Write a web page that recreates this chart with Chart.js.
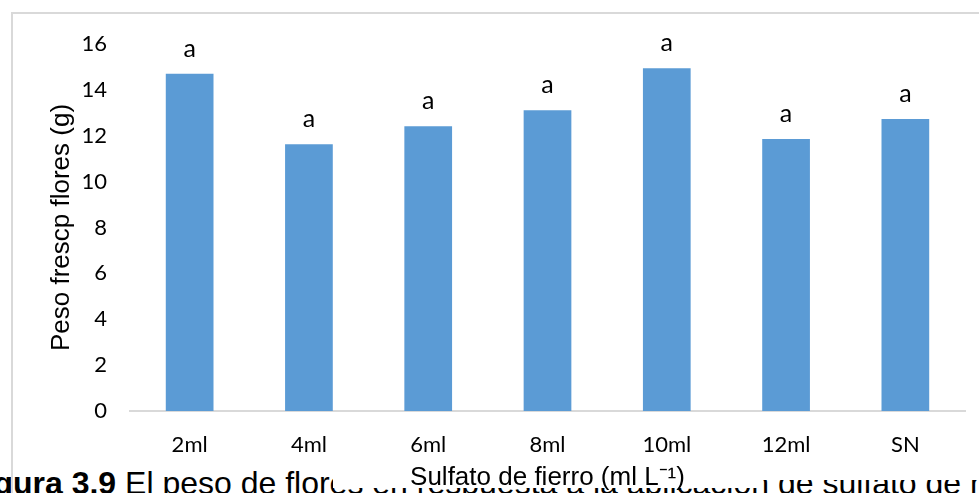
<!DOCTYPE html>
<html>
<head>
<meta charset="utf-8">
<script src="https://cdn.jsdelivr.net/npm/chart.js@4.4.1/dist/chart.umd.min.js"></script>
<style>
  html, body { margin: 0; padding: 0; background: #fff; overflow: hidden; width: 979px; height: 493px; }
  #caption {
    position: absolute; left: -35px; top: 467px;
    font: 32px "Liberation Sans", Arial, sans-serif; line-height: 32px;
    white-space: nowrap; color: #000; z-index: 1;
  }
  #wrap { position: absolute; left: 0; top: 0; width: 979px; height: 493px; z-index: 2; }
  #frame {
    position: absolute; left: 11px; top: 12px; width: 1000px; height: 520px;
    border-top: 2px solid #d9d9d9; border-left: 2px solid #d9d9d9;
    box-sizing: border-box; z-index: 3; pointer-events: none;
  }
</style>
</head>
<body>
<div id="caption"><b>Figura 3.9</b> El peso de flores en respuesta a la aplicación de sulfato de hierro</div>
<div id="wrap"><canvas id="c"></canvas></div>
<div id="frame"></div>
<script>
// Treatments (ml of iron sulfate per litre) and mean fresh flower weight (g)
const categories = ['2ml', '4ml', '6ml', '8ml', '10ml', '12ml', 'SN'];
const pesoFresco = [14.70, 11.63, 12.41, 13.11, 14.94, 11.86, 12.73];
// Mean separation letters shown above each bar
const letras = ['a', 'a', 'a', 'a', 'a', 'a', 'a'];
const yTicks = [0, 2, 4, 6, 8, 10, 12, 14, 16];

const tickFont = { family: 'Lato', size: 22 };
const letterFont = { family: 'Lato', size: 25 };

// Paints the chart's white background, leaving the caption strip uncovered
const backdrop = {
  id: 'backdrop',
  beforeDraw(chart) {
    const ctx = chart.ctx;
    ctx.save();
    ctx.fillStyle = '#fff';
    ctx.fillRect(0, 0, chart.width, 470);
    ctx.fillRect(333, 0, chart.width - 333, 480);
    ctx.fillRect(333, 0, 430, 488);
    ctx.restore();
  }
};

// Writes the significance letter above each bar
const letterLabels = {
  id: 'letterLabels',
  afterDatasetsDraw(chart) {
    const ctx = chart.ctx;
    const meta = chart.getDatasetMeta(0);
    ctx.save();
    ctx.font = `${letterFont.size}px ${letterFont.family}`;
    ctx.fillStyle = '#000';
    ctx.textAlign = 'center';
    ctx.textBaseline = 'middle';
    meta.data.forEach((bar, i) => {
      ctx.fillText(letras[i], bar.x, bar.y - 25);
    });
    ctx.restore();
  }
};

new Chart(document.getElementById('c'), {
  type: 'bar',
  data: {
    labels: categories,
    datasets: [{
      data: pesoFresco,
      backgroundColor: '#5b9bd5',
      borderWidth: 0,
      barPercentage: 0.4,
      categoryPercentage: 1.0
    }]
  },
  options: {
    responsive: true,
    maintainAspectRatio: false,
    animation: false,
    devicePixelRatio: 1,
    layout: { padding: { top: 44, right: 14, left: 0, bottom: 0 } },
    plugins: { legend: { display: false }, tooltip: { enabled: false } },
    scales: {
      x: {
        grid: { display: false, drawTicks: false },
        border: { display: true, color: '#d9d9d9', width: 2 },
        ticks: { font: tickFont, color: '#000', padding: 21 },
        title: {
          display: true,
          text: 'Sulfato de fierro (ml L⁻¹)',
          font: { family: 'Liberation Sans', size: 26 },
          color: '#000',
          padding: { top: 0, bottom: 0 }
        },
        afterFit(scale) { scale.height = 82; }
      },
      y: {
        min: 0,
        max: 16,
        afterBuildTicks(scale) { scale.ticks = yTicks.map(v => ({ value: v })); },
        grid: { display: false, drawTicks: false },
        border: { display: false },
        ticks: { font: tickFont, color: '#000', padding: 23 },
        title: {
          display: true,
          text: 'Peso frescp flores (g)',
          font: { family: 'Liberation Sans', size: 26 },
          color: '#000',
          padding: { top: 46, bottom: 0 }
        },
        afterFit(scale) { scale.width = 130; }
      }
    }
  },
  plugins: [backdrop, letterLabels]
});
</script>
</body>
</html>
